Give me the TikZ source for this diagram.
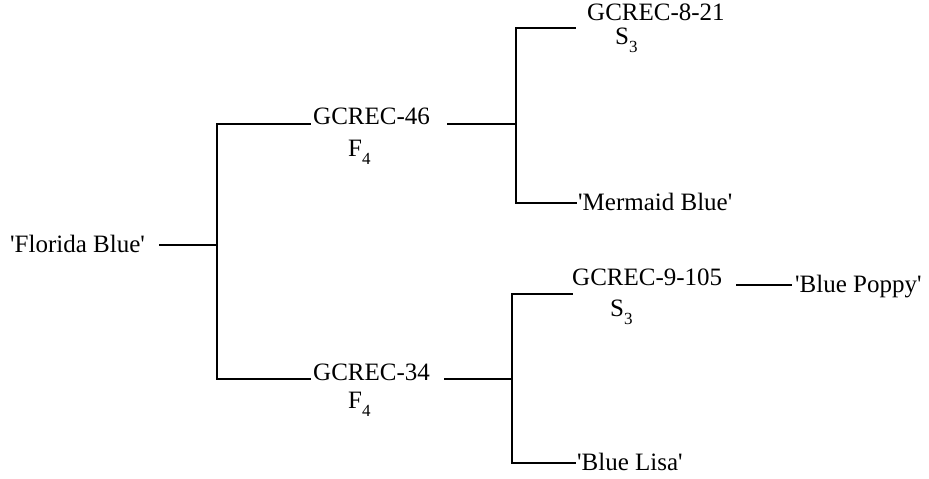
\documentclass[tikz,border=0pt]{standalone}
\usepackage{fontspec}
\setmainfont{Liberation Serif}
\newcommand{\sub}[1]{\raisebox{-8pt}{\fontsize{17}{17}\selectfont #1}}
\newcommand{\q}{\textquotesingle}
\begin{document}
\begin{tikzpicture}[x=1pt,y=-1pt,
  lbl/.style={anchor=base west,inner sep=0pt,font=\fontsize{25}{27}\selectfont},
  branch/.style={line width=1.7pt,line cap=rect}]
\useasboundingbox (0,0) rectangle (929,479);

% labels
\node[lbl] (fb)   at (10,252)  {\q Florida Blue\q};
\node[lbl] (g46)  at (313,124) {GCREC-46};
\node[lbl] (f4a)  at (348,156) {F\sub{4}};
\node[lbl] (g821) at (587,20)  {GCREC-8-21};
\node[lbl] (s3a)  at (615,44)  {S\sub{3}};
\node[lbl] (mb)   at (578,210) {\q Mermaid Blue\q};
\node[lbl] (g34)  at (313,380) {GCREC-34};
\node[lbl] (f4b)  at (348,408) {F\sub{4}};
\node[lbl] (g9)   at (572,285) {GCREC-9-105};
\node[lbl] (s3b)  at (610,316) {S\sub{3}};
\node[lbl] (bp)   at (795,292) {\q Blue Poppy\q};
\node[lbl] (bl)   at (577,470) {\q Blue Lisa\q};

% joints of the tree
\coordinate (r0) at (160,245);
\coordinate (r1) at (217,245);
\coordinate (a0) at (217,124);
\coordinate (a1) at (310,124);
\coordinate (b0) at (217,379);
\coordinate (b1) at (310,379);
\coordinate (c0) at (448,124);
\coordinate (c1) at (516,124);
\coordinate (c2) at (516,28);
\coordinate (c3) at (575,28);
\coordinate (c4) at (516,203);
\coordinate (c5) at (576,203);
\coordinate (d0) at (445,379);
\coordinate (d1) at (512,379);
\coordinate (d2) at (512,294);
\coordinate (d3) at (572,294);
\coordinate (d4) at (512,463);
\coordinate (d5) at (575,463);
\coordinate (e0) at (737,285);
\coordinate (e1) at (791,285);

% branches
\draw[branch] (r0) -- (r1);
\draw[branch] (a1) -- (a0) -- (b0) -- (b1);
\draw[branch] (c0) -- (c1);
\draw[branch] (c3) -- (c2) -- (c4) -- (c5);
\draw[branch] (d0) -- (d1);
\draw[branch] (d3) -- (d2) -- (d4) -- (d5);
\draw[branch] (e0) -- (e1);
\end{tikzpicture}
\end{document}
